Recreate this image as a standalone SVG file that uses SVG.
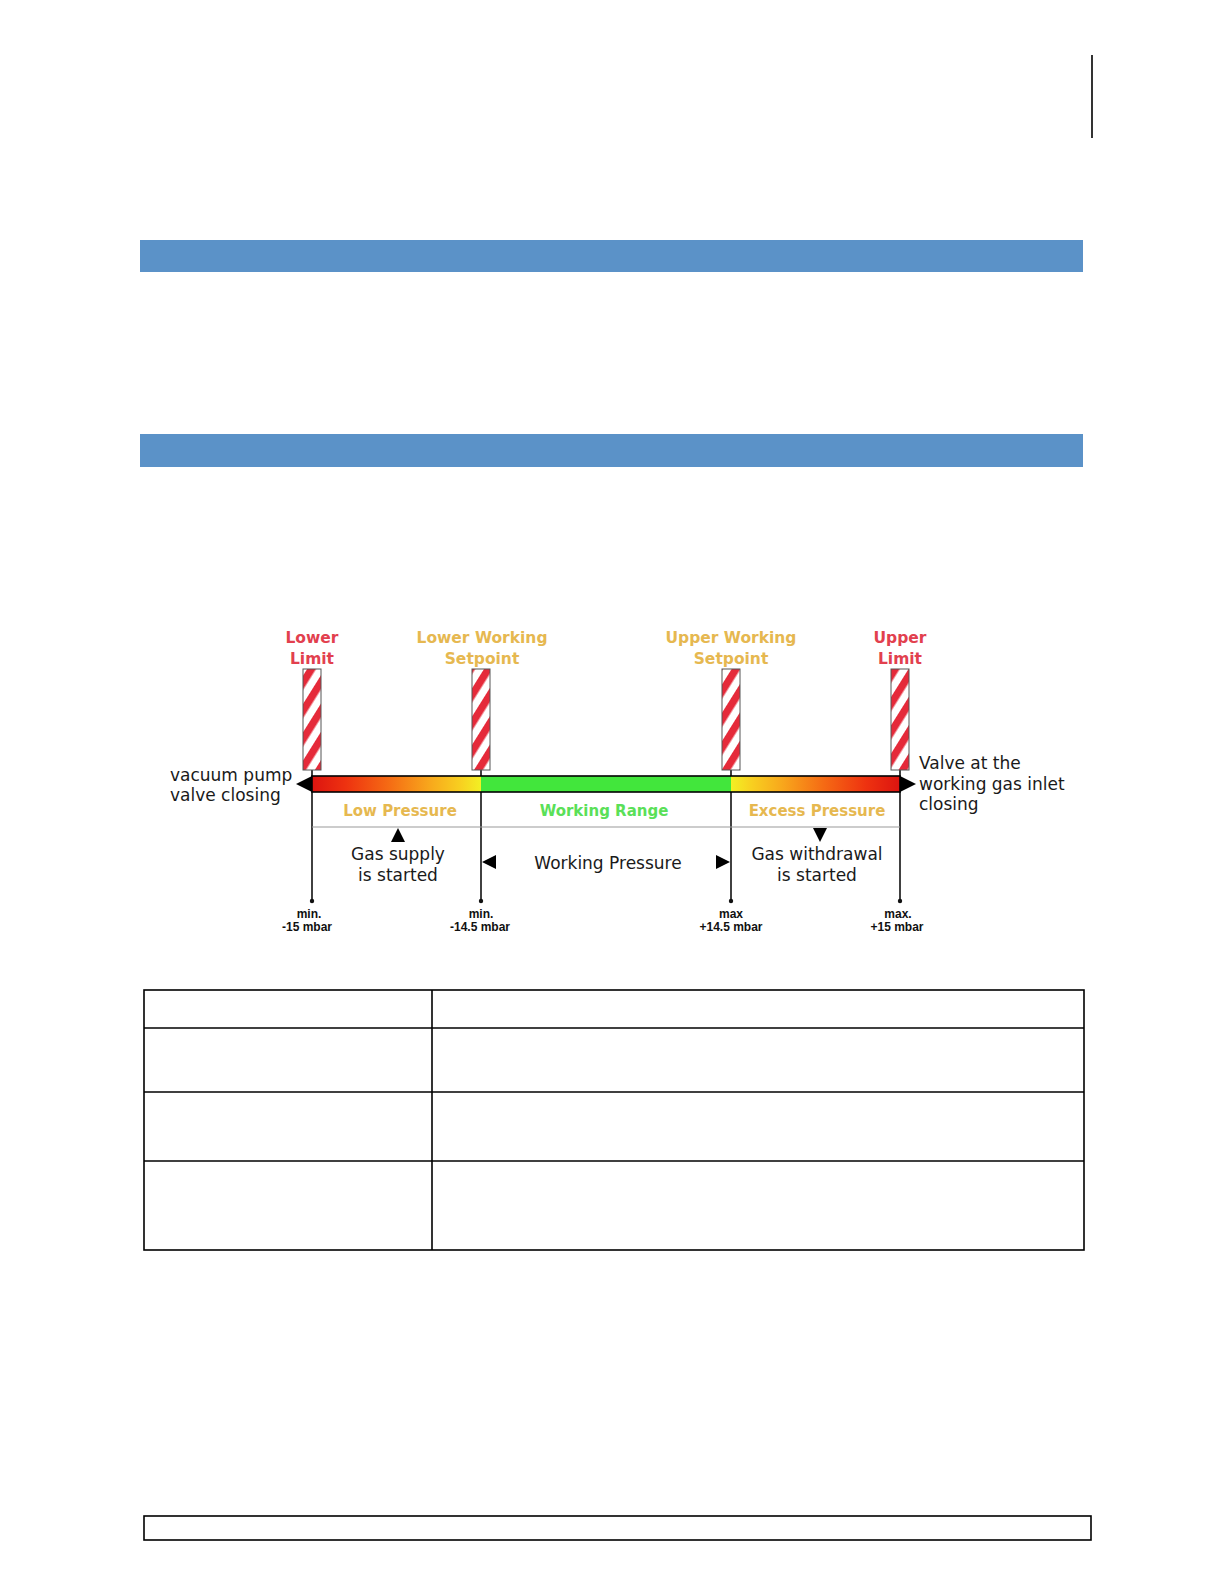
<svg xmlns="http://www.w3.org/2000/svg" width="1224" height="1584" viewBox="0 0 1224 1584">
<style>
.band{fill:#5b92c8}
.frame{fill:none;stroke:#000;stroke-width:1.6}
.t{font-family:"DejaVu Sans",Verdana,sans-serif;font-size:17px;fill:#1a1a1a}
.lab{font-family:"DejaVu Sans",Verdana,sans-serif;font-size:15.5px;font-weight:bold}
.red{fill:#e2404e}
.gold{fill:#e6b850}
.zone{font-family:"DejaVu Sans",Verdana,sans-serif;font-size:15px;font-weight:bold}
.sm{font-family:"Liberation Sans",Arial,sans-serif;font-size:12px;font-weight:bold;fill:#111}
.vline{stroke:#111;stroke-width:1.6}
.pole{fill:url(#stripes);stroke:#555;stroke-width:1}
.tri{fill:#000}
</style>
<defs>
<pattern id="stripes" patternUnits="userSpaceOnUse" width="15" height="15" patternTransform="rotate(-58)">
<rect width="15" height="15" fill="#ffffff"/>
<rect width="15" height="7.5" fill="#e52a3a"/>
</pattern>
<linearGradient id="gLow" x1="0" x2="1" y1="0" y2="0">
<stop offset="0" stop-color="#dc1410"/>
<stop offset="0.2" stop-color="#ee3210"/>
<stop offset="0.45" stop-color="#f56a14"/>
<stop offset="0.7" stop-color="#f8a81c"/>
<stop offset="0.88" stop-color="#f8d020"/>
<stop offset="1" stop-color="#f2f024"/>
</linearGradient>
<linearGradient id="gHigh" x1="1" x2="0" y1="0" y2="0">
<stop offset="0" stop-color="#dc1410"/>
<stop offset="0.2" stop-color="#ee3210"/>
<stop offset="0.45" stop-color="#f56a14"/>
<stop offset="0.7" stop-color="#f8a81c"/>
<stop offset="0.88" stop-color="#f8d020"/>
<stop offset="1" stop-color="#f2f024"/>
</linearGradient>
</defs>
<rect width="1224" height="1584" fill="#fff"/>

<g id="page">
<line x1="1092" y1="55" x2="1092" y2="138" stroke="#000" stroke-width="1.6"/>
<rect class="band" x="140" y="240" width="943" height="32"/>
<rect class="band" x="140" y="434" width="943" height="33"/>
</g>

<g id="connectors">
<line class="vline" x1="312" y1="770" x2="312" y2="901"/>
<line class="vline" x1="481" y1="770" x2="481" y2="901"/>
<line class="vline" x1="731" y1="770" x2="731" y2="901"/>
<line class="vline" x1="900" y1="770" x2="900" y2="901"/>
<line x1="312" y1="827" x2="900" y2="827" stroke="#9a9a9a" stroke-width="1.2"/>
<circle cx="312" cy="901" r="2.2" fill="#111"/>
<circle cx="481" cy="901" r="2.2" fill="#111"/>
<circle cx="731" cy="901" r="2.2" fill="#111"/>
<circle cx="900" cy="901" r="2.2" fill="#111"/>
<polygon class="tri" points="398,828 391,842 405,842"/>
<polygon class="tri" points="820,842 813,828 827,828"/>
<polygon class="tri" points="482,862 496,855 496,869"/>
<polygon class="tri" points="730,862 716,855 716,869"/>
</g>

<g id="bar">
<rect x="312" y="776" width="169" height="16" fill="url(#gLow)"/>
<rect x="481" y="776" width="250" height="16" fill="#42e63c"/>
<rect x="731" y="776" width="169" height="16" fill="url(#gHigh)"/>
<rect x="312" y="776" width="588" height="16" fill="none" stroke="#000" stroke-width="1.6"/>
<polygon class="tri" points="296,784 312,776 312,792"/>
<polygon class="tri" points="916,784 900,776 900,792"/>
</g>

<g id="lower-limit">
<text class="lab red" x="312" y="643" text-anchor="middle">Lower</text>
<text class="lab red" x="312" y="664" text-anchor="middle">Limit</text>
<rect class="pole" x="303" y="669" width="18" height="101"/>
<text class="sm" x="309" y="918" text-anchor="middle">min.</text>
<text class="sm" x="307" y="931" text-anchor="middle">-15 mbar</text>
</g>

<g id="lower-working-setpoint">
<text class="lab gold" x="482" y="643" text-anchor="middle">Lower Working</text>
<text class="lab gold" x="482" y="664" text-anchor="middle">Setpoint</text>
<rect class="pole" x="472" y="669" width="18" height="101"/>
<text class="sm" x="481" y="918" text-anchor="middle">min.</text>
<text class="sm" x="480" y="931" text-anchor="middle">-14.5 mbar</text>
</g>

<g id="upper-working-setpoint">
<text class="lab gold" x="731" y="643" text-anchor="middle">Upper Working</text>
<text class="lab gold" x="731" y="664" text-anchor="middle">Setpoint</text>
<rect class="pole" x="722" y="669" width="18" height="101"/>
<text class="sm" x="731" y="918" text-anchor="middle">max</text>
<text class="sm" x="731" y="931" text-anchor="middle">+14.5 mbar</text>
</g>

<g id="upper-limit">
<text class="lab red" x="900" y="643" text-anchor="middle">Upper</text>
<text class="lab red" x="900" y="664" text-anchor="middle">Limit</text>
<rect class="pole" x="891" y="669" width="18" height="101"/>
<text class="sm" x="898" y="918" text-anchor="middle">max.</text>
<text class="sm" x="897" y="931" text-anchor="middle">+15 mbar</text>
</g>

<g id="zones">
<text class="zone gold" x="400" y="816" text-anchor="middle">Low Pressure</text>
<text class="zone" x="604" y="816" text-anchor="middle" fill="#5ae058">Working Range</text>
<text class="zone gold" x="817" y="816" text-anchor="middle">Excess Pressure</text>
</g>

<g id="notes">
<text class="t" x="170" y="781">vacuum pump</text>
<text class="t" x="170" y="801">valve closing</text>
<text class="t" x="919" y="769">Valve at the</text>
<text class="t" x="919" y="790">working gas inlet</text>
<text class="t" x="919" y="810">closing</text>
<text class="t" x="398" y="860" text-anchor="middle">Gas supply</text>
<text class="t" x="398" y="881" text-anchor="middle">is started</text>
<text class="t" x="608" y="869" text-anchor="middle">Working Pressure</text>
<text class="t" x="817" y="860" text-anchor="middle">Gas withdrawal</text>
<text class="t" x="817" y="881" text-anchor="middle">is started</text>
</g>

<g id="table">
<rect class="frame" x="144" y="990" width="940" height="260"/>
<line class="frame" x1="432" y1="990" x2="432" y2="1250"/>
<line class="frame" x1="144" y1="1028" x2="1084" y2="1028"/>
<line class="frame" x1="144" y1="1092" x2="1084" y2="1092"/>
<line class="frame" x1="144" y1="1161" x2="1084" y2="1161"/>
</g>

<g id="footer">
<rect class="frame" x="144" y="1516" width="947" height="24"/>
</g>
</svg>
